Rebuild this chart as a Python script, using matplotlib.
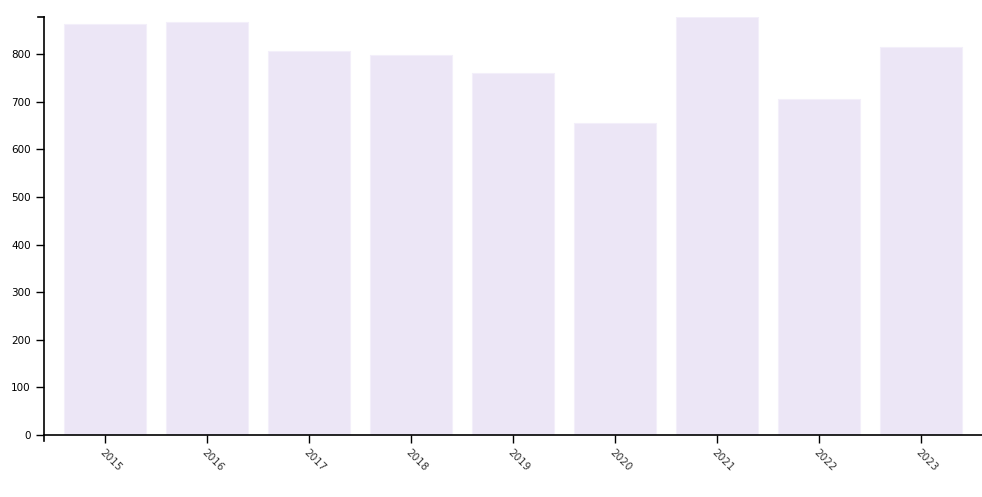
import numpy as np
from matplotlib import pyplot as plt

years = ["2015", "2016", "2017", "2018", "2019", "2020", "2021", "2022", "2023"]
values = [863, 867, 806, 798, 760, 656, 878, 705, 816]

W, H = 982, 497
fig = plt.figure(figsize=(W / 100, H / 100), dpi=100)
ax = fig.add_axes([44 / W, (H - 435) / H, 938 / W, (435 - 17) / H])

x = np.arange(len(years))
ax.bar(x, values, width=0.8, color="#ece6f6", edgecolor="#f3effa", linewidth=0.8)

ax.set_xlim(-0.6, len(years) - 0.4)
ax.set_ylim(0, max(values))
ax.set_xticks(x)
ax.set_xticklabels(years, rotation=-45, ha="left", va="top", rotation_mode="anchor",
                   fontsize=7.5, color="#333333")
ax.set_yticks(range(0, 900, 100))
ax.tick_params(axis="y", labelsize=7.5, length=6, width=1, colors="black")
ax.tick_params(axis="x", length=6, width=1, colors="black", pad=3)
for lbl in ax.get_xticklabels():
    lbl.set_color("#333333")

for s in ["top", "right"]:
    ax.spines[s].set_visible(False)
for s in ["left", "bottom"]:
    ax.spines[s].set_linewidth(1.2)
    ax.spines[s].set_color("black")

# d3-style outer ticks
ax.plot([-0.6, -0.6], [0, -0.014], transform=ax.get_xaxis_transform(), color="black",
        lw=1.2, clip_on=False)
ax.plot([0, -0.0064], [1, 1], transform=ax.transAxes, color="black", lw=1.2, clip_on=False)

plt.savefig("out.png", dpi=100)
